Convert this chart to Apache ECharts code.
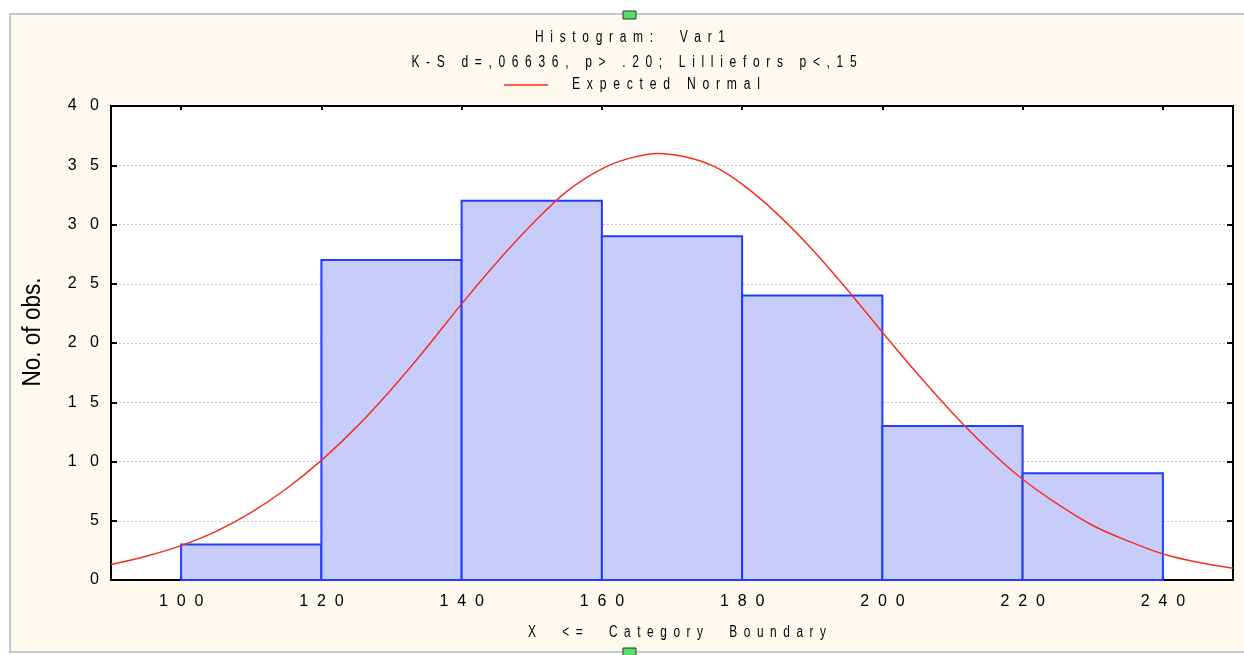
<!DOCTYPE html>
<html>
<head>
<meta charset="utf-8">
<script src="https://cdn.jsdelivr.net/npm/echarts@6/dist/echarts.min.js"></script>
<style>
html,body{margin:0;padding:0;background:#ffffff;}
#chart{width:1244px;height:655px;}
</style>
</head>
<body>
<div id="chart"></div>
<script>
// ---- data ----
var binStarts = [100, 120, 140, 160, 180, 200, 220];
var binEnds   = [120, 140, 160, 180, 200, 220, 240];
var binCounts = [3, 27, 32, 29, 24, 13, 9];

var curveX = [90, 95, 100, 105, 110, 115, 120, 125, 130, 135, 140, 145, 150, 155, 160, 164,
              168, 172, 176, 180, 185, 190, 195, 200, 205, 210, 215, 220, 225, 230, 235, 240, 245, 250];
var curveY = [1.3, 2.0, 2.9, 4.1, 5.7, 7.7, 10.1, 12.9, 16.1, 19.6, 23.3, 26.8, 30.0, 32.8, 34.7, 35.6,
              36.0, 35.7, 34.9, 33.4, 30.9, 27.9, 24.5, 20.9, 17.4, 14.1, 11.1, 8.5, 6.4, 4.6, 3.3, 2.2, 1.5, 1.0];

var xTicks = [100, 120, 140, 160, 180, 200, 220, 240];

var titleText = 'Histogram:  Var1';
var subtitleText = 'K-S d=,06636, p> .20; Lilliefors p<,15';
var legendText = 'Expected Normal';
var xTitle = 'X  <=  Category  Boundary';
var yTitle = 'No. of obs.';

// ---- helpers ----
var FONT = "'Liberation Sans', Arial, sans-serif";
function spaced(s, n) {
  var gap = new Array(n + 1).join(' ');
  return s.split('').join(gap);
}

var bars = binStarts.map(function (s, i) { return [s, binEnds[i], binCounts[i]]; });
var curve = curveX.map(function (x, i) { return [x, curveY[i]]; });

var chart = echarts.init(document.getElementById('chart'));

var option = {
  backgroundColor: '#ffffff',
  animation: false,
  graphic: [
    { type: 'rect', z: -10, silent: true,
      shape: { x: 10, y: 14, width: 1240, height: 638 },
      style: { fill: '#fef9ee', stroke: '#c8c8c8', lineWidth: 2 } },
    { type: 'rect', z: 10, silent: true,
      shape: { x: 623, y: 11, width: 13, height: 8 },
      style: { fill: '#55e06a', stroke: '#333', lineWidth: 1 } },
    { type: 'rect', z: 10, silent: true,
      shape: { x: 623, y: 648, width: 13, height: 8 },
      style: { fill: '#55e06a', stroke: '#333', lineWidth: 1 } },
    { type: 'text', x: 630, y: 38, scaleX: 0.75, silent: true,
      style: { text: spaced(titleText, 2), font: '16px ' + FONT, fill: '#000', align: 'center', verticalAlign: 'middle' } },
    { type: 'text', x: 634, y: 63, scaleX: 0.75, silent: true,
      style: { text: spaced(subtitleText, 2), font: '16px ' + FONT, fill: '#000', align: 'center', verticalAlign: 'middle' } },
    { type: 'line', silent: true,
      shape: { x1: 504, y1: 85, x2: 548, y2: 85 },
      style: { stroke: '#f2301f', lineWidth: 1.5 } },
    { type: 'text', x: 572, y: 85, scaleX: 0.76, silent: true,
      style: { text: spaced(legendText, 2), font: '16px ' + FONT, fill: '#000', align: 'left', verticalAlign: 'middle' } },
    { type: 'text', x: 677, y: 633, scaleX: 0.74, silent: true,
      style: { text: spaced(xTitle, 2), font: '16px ' + FONT, fill: '#000', align: 'center', verticalAlign: 'middle' } },
    { type: 'text', x: 33, y: 332, rotation: Math.PI / 2, scaleX: 0.9, silent: true,
      style: { text: yTitle, font: '25px ' + FONT, fill: '#000', align: 'center', verticalAlign: 'middle' } }
  ],
  grid: {
    left: 111, right: 11, top: 106, bottom: 75,
    show: true, backgroundColor: '#ffffff', borderColor: '#000', borderWidth: 0
  },
  xAxis: [
    {
      type: 'value', min: 90, max: 250, position: 'bottom',
      axisLine: { show: true, onZero: false, lineStyle: { color: '#000', width: 2 } },
      axisTick: { show: true, inside: true, length: 4, customValues: xTicks, lineStyle: { color: '#000', width: 2 } },
      axisLabel: { show: true, customValues: xTicks, margin: 14, color: '#000',
        fontFamily: FONT, fontSize: 16,
        formatter: function (v) { return spaced(String(v), 2); } },
      splitLine: { show: false }
    },
    {
      type: 'value', min: 90, max: 250, position: 'top',
      axisLine: { show: true, onZero: false, lineStyle: { color: '#000', width: 2 } },
      axisTick: { show: true, inside: true, length: 4, customValues: xTicks, lineStyle: { color: '#000', width: 2 } },
      axisLabel: { show: false },
      splitLine: { show: false }
    }
  ],
  yAxis: [
    {
      type: 'value', min: 0, max: 40, interval: 5, position: 'left',
      axisLine: { show: true, lineStyle: { color: '#000', width: 2 } },
      axisTick: { show: true, inside: true, length: 6, lineStyle: { color: '#000', width: 2 } },
      axisLabel: { show: true, margin: 12, color: '#000', fontFamily: FONT, fontSize: 16,
        formatter: function (v) { return spaced(String(v), 3); } },
      splitLine: { show: true, lineStyle: { color: '#c4c4c4', width: 1, type: [2, 2] } }
    },
    {
      type: 'value', min: 0, max: 40, interval: 5, position: 'right',
      axisLine: { show: true, lineStyle: { color: '#000', width: 2 } },
      axisTick: { show: true, inside: true, length: 6, lineStyle: { color: '#000', width: 2 } },
      axisLabel: { show: false },
      splitLine: { show: false }
    }
  ],
  series: [
    {
      type: 'custom',
      xAxisIndex: 0, yAxisIndex: 0,
      data: bars,
      z: 2,
      renderItem: function (params, api) {
        var p0 = api.coord([api.value(0), api.value(2)]);
        var p1 = api.coord([api.value(1), 0]);
        return {
          type: 'rect',
          shape: { x: p0[0], y: p0[1], width: p1[0] - p0[0], height: p1[1] - p0[1] },
          style: { fill: '#c8ccfb', stroke: '#1f3cff', lineWidth: 2 }
        };
      },
      encode: { x: [0, 1], y: 2 }
    },
    {
      type: 'line',
      xAxisIndex: 0, yAxisIndex: 0,
      data: curve,
      smooth: 0.34,
      showSymbol: false,
      z: 5,
      lineStyle: { color: '#f2301f', width: 1.5 }
    }
  ]
};
chart.setOption(option);
</script>
</body>
</html>
